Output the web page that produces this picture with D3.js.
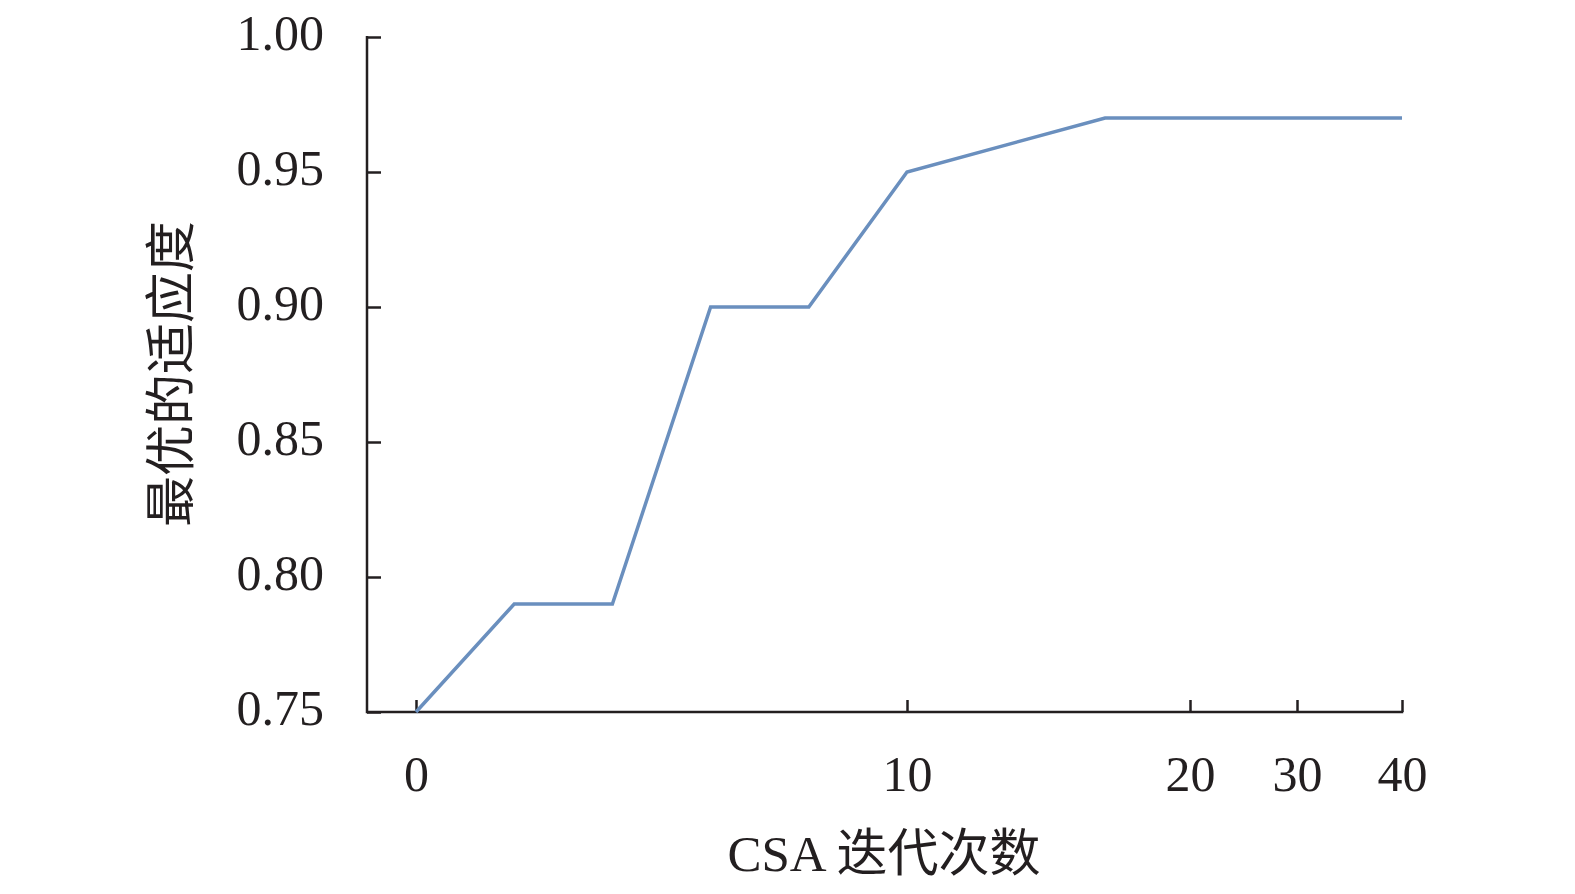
<!DOCTYPE html>
<html>
<head>
<meta charset="utf-8">
<script src="https://cdn.jsdelivr.net/npm/d3@7"></script>
<style>
  html, body { margin: 0; padding: 0; background: #fff; }
  svg { display: block; }
  text { font-family: "Liberation Serif", "Noto Sans CJK SC", serif; fill: #231f20; }
</style>
</head>
<body>
<svg id="chart" width="1575" height="894"></svg>
<script>
// Data
const iterations = [0, 2, 4, 6, 8, 10, 17, 40];
const fitness = [0.75, 0.79, 0.79, 0.90, 0.90, 0.95, 0.97, 0.97];
const xTickValues = [0, 10, 20, 30, 40];
const yTickValues = [0.75, 0.80, 0.85, 0.90, 0.95, 1.00];
const xTitle = "CSA 迭代次数";
const yTitle = "最优的适应度";

const svg = d3.select("#chart");
const axisColor = "#231f20";

// Non-uniform (piecewise) x axis as in the original figure
const x = d3.scaleLinear().domain([0, 10, 20, 30, 40]).range([416, 907, 1190, 1297, 1402]);
const y = d3.scaleLinear().domain([0.75, 1.00]).range([712, 37]);
const yAxisX = 367;

// Y axis
const gy = svg.append("g").attr("transform", `translate(${yAxisX},0)`)
  .call(d3.axisLeft(y).tickValues(yTickValues).tickFormat(d3.format(".2f"))
    .tickSizeInner(-14).tickSizeOuter(0).tickPadding(43));
gy.select(".domain").remove();
gy.selectAll(".tick line").attr("stroke", axisColor).attr("stroke-width", 2.5);
gy.selectAll(".tick text").attr("font-size", 50).attr("fill", axisColor).attr("dy", "0.24em")
  .style("font-family", '"Liberation Serif", serif');
svg.append("line").attr("x1", yAxisX).attr("x2", yAxisX)
  .attr("y1", y(1.00) - 1).attr("y2", y(0.75) + 1.25)
  .attr("stroke", axisColor).attr("stroke-width", 2.5);

// X axis
const gx = svg.append("g").attr("transform", `translate(0,${y(0.75)})`)
  .call(d3.axisBottom(x).tickValues(xTickValues).tickFormat(d3.format("d"))
    .tickSizeInner(-12).tickSizeOuter(0).tickPadding(43));
gx.select(".domain").remove();
gx.selectAll(".tick line").attr("stroke", axisColor).attr("stroke-width", 2.5);
gx.selectAll(".tick text").attr("font-size", 50).attr("fill", axisColor)
  .style("font-family", '"Liberation Serif", serif');
svg.append("line").attr("x1", yAxisX).attr("x2", x(40) + 1.25)
  .attr("y1", y(0.75)).attr("y2", y(0.75))
  .attr("stroke", axisColor).attr("stroke-width", 2.5);

// Line
const pts = iterations.map((d, i) => [d, fitness[i]]);
svg.append("path").datum(pts)
  .attr("fill", "none")
  .attr("stroke", "#6a8fbe")
  .attr("stroke-width", 3.5)
  .attr("stroke-linejoin", "miter")
  .attr("d", d3.line().x(d => x(d[0])).y(d => y(d[1])));

// Titles
svg.append("text")
  .attr("x", 884).attr("y", 871)
  .attr("text-anchor", "middle")
  .attr("font-size", 51)
  .text(xTitle);

svg.append("text")
  .attr("transform", `translate(189,374) rotate(-90)`)
  .attr("text-anchor", "middle")
  .attr("font-size", 51)
  .text(yTitle);
</script>
</body>
</html>
